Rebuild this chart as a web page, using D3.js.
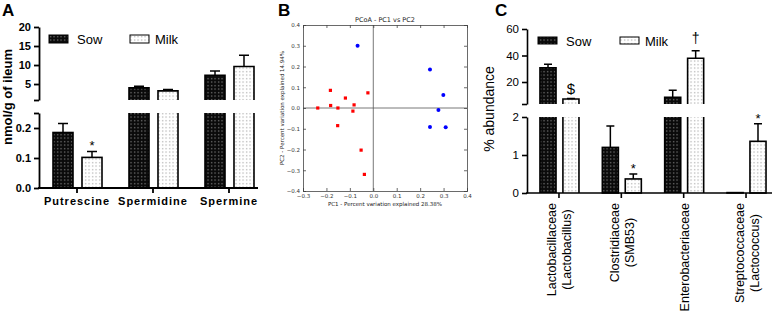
<!DOCTYPE html>
<html>
<head>
<meta charset="utf-8">
<script src="https://cdn.jsdelivr.net/npm/d3@7"></script>
<style>
  body { margin: 0; background: #fff; }
  svg { display: block; font-family: Arial, "Liberation Sans", sans-serif; }
</style>
</head>
<body>
<svg id="fig" width="778" height="312"></svg>
<script>
// ---- panel A: polyamines (nmol/g of ileum)
const polyCats = ["Putrescine", "Spermidine", "Spermine"];
const polySow = [0.185, 4.0, 7.3];
const polySowSem = [0.03, 0.4, 1.1];
const polyMilk = [0.102, 3.2, 9.6];
const polyMilkSem = [0.02, 0.35, 3.0];
const polyMilkMark = ["*", "", ""];
const polyHighTicks = [5, 10, 15, 20];
const polyLowTicks = [0, 0.1, 0.2];

// ---- panel B: PCoA
const redPC1 = [-0.237, -0.183, -0.182, -0.151, -0.152, -0.119, -0.082, -0.087, -0.023, -0.052, -0.038];
const redPC2 = [0.0, 0.085, 0.012, 0.0, -0.085, 0.048, 0.015, -0.015, 0.073, -0.203, -0.32];
const bluePC1 = [-0.067, 0.242, 0.299, 0.278, 0.242, 0.309];
const bluePC2 = [0.30, 0.185, 0.063, -0.01, -0.092, -0.093];
const pcTicksX = [-0.3, -0.2, -0.1, 0.0, 0.1, 0.2, 0.3, 0.4];
const pcTicksY = [-0.4, -0.3, -0.2, -0.1, 0.0, 0.1, 0.2, 0.3, 0.4];

// ---- panel C: % abundance
const famCats = [["Lactobacillaceae", "(Lactobacillus)"], ["Clostridiaceae", "(SMB53)"],
                 ["Enterobacteriaceae"], ["Streptococcaceae", "(Lactococcus)"]];
const famSow = [30.8, 1.2, 8.5, 0.01];
const famSowSem = [2.6, 0.56, 5.2, 0];
const famMilk = [7.2, 0.37, 37.9, 1.36];
const famMilkSem = [0.4, 0.13, 5.7, 0.46];
const famMilkMark = ["$", "*", "\u2020", "*"];
const famHighTicks = [20, 40, 60];
const famLowTicks = [0, 1, 2];

const svg = d3.select("#fig");
const defs = svg.append("defs");

// dotted fills like the prism bars
function dotPattern(id, bg, dot) {
    const p = defs.append("pattern").attr("id", id)
        .attr("patternUnits", "userSpaceOnUse").attr("width", 3.5).attr("height", 3.5);
    p.append("rect").attr("width", 3.5).attr("height", 3.5).attr("fill", bg);
    p.append("rect").attr("x", 1).attr("y", 1).attr("width", 1.2).attr("height", 1.2).attr("fill", dot);
}
dotPattern("sowFill", "#0a0a0a", "#8a8a8a");
dotPattern("milkFill", "#ffffff", "#a8a8a8");
const fills = { Sow: "url(#sowFill)", Milk: "url(#milkFill)" };

function bar(g, x0, w, v, lo, hi, fill) {
    const loMax = lo.domain()[1];
    const hiMin = hi.domain()[0];
    if (v <= loMax) {
        g.append("rect").attr("x", x0).attr("y", lo(v)).attr("width", w)
            .attr("height", lo(0) - lo(v)).attr("fill", fill)
            .attr("stroke", "#000").attr("stroke-width", 1.6);
        return;
    }
    g.append("rect").attr("x", x0).attr("y", lo(loMax)).attr("width", w)
        .attr("height", lo(0) - lo(loMax)).attr("fill", fill);
    g.append("path").attr("d", `M${x0},${lo(loMax)}V${lo(0)}M${x0 + w},${lo(loMax)}V${lo(0)}`)
        .attr("stroke", "#000").attr("stroke-width", 1.6).attr("fill", "none");
    g.append("rect").attr("x", x0).attr("y", hi(v)).attr("width", w)
        .attr("height", hi(hiMin) - hi(v)).attr("fill", fill);
    g.append("path").attr("d", `M${x0},${hi(hiMin)}V${hi(v)}H${x0 + w}V${hi(hiMin)}`)
        .attr("stroke", "#000").attr("stroke-width", 1.6).attr("fill", "none");
}

function ySeg(v, lo, hi) {
    return v <= lo.domain()[1] ? lo(v) : hi(v);
}

function errBar(g, cx, v, e, lo, hi, cap) {
    if (!e) return ySeg(v, lo, hi);
    const y0 = ySeg(v, lo, hi), y1 = ySeg(v + e, lo, hi);
    g.append("path").attr("d", `M${cx},${y0}V${y1}M${cx - cap / 2},${y1}H${cx + cap / 2}`)
        .attr("stroke", "#000").attr("stroke-width", 1.5).attr("fill", "none");
    return y1;
}

const markGap = { "*": 1, "$": 4, "\u2020": 8 };
const markSize = { "*": 13, "$": 15, "\u2020": 14 };

function styleAxis(sel, w) {
    sel.selectAll("path.domain").attr("stroke", "#000").attr("stroke-width", w);
    sel.selectAll(".tick line").attr("stroke", "#000").attr("stroke-width", w);
}

function panelLabel(x, y, t) {
    svg.append("text").attr("x", x).attr("y", y).attr("font-size", 17)
        .attr("font-weight", "bold").text(t);
}

// ================= Panel A =================
{
    const g = svg.append("g");
    const x = d3.scaleBand().domain(polyCats).range([39, 267]);
    const s = d3.scaleBand().domain(["Sow", "Milk"]).range([-24, 25]).paddingInner(0.31);
    const lo = d3.scaleLinear().domain([0, 0.25]).range([188, 113]);
    const hi = d3.scaleLinear().domain([0.8, 20]).range([100, 27]);

    polyCats.forEach((c, i) => {
        const cx = x(c) + x.bandwidth() / 2;
        const series = [["Sow", polySow[i], polySowSem[i]], ["Milk", polyMilk[i], polyMilkSem[i]]];
        series.forEach(([k, v, e]) => {
            const x0 = cx + s(k);
            bar(g, x0, s.bandwidth(), v, lo, hi, fills[k]);
            const top = errBar(g, x0 + s.bandwidth() / 2, v, e, lo, hi, 10);
            const m = k === "Milk" ? polyMilkMark[i] : "";
            if (m) {
                g.append("text").attr("x", x0 + s.bandwidth() / 2).attr("y", top - markGap[m])
                    .attr("text-anchor", "middle").attr("font-size", markSize[m]).text(m);
            }
        });
    });

    const hiAx = g.append("g").attr("transform", "translate(39,0)")
        .call(d3.axisLeft(hi).tickValues([0.8].concat(polyHighTicks)).tickSize(5).tickSizeOuter(0)
            .tickFormat(d => d < 1 ? "" : d));
    const loAx = g.append("g").attr("transform", "translate(39,0)")
        .call(d3.axisLeft(lo).tickValues(polyLowTicks.concat([0.25])).tickSize(5).tickSizeOuter(0)
            .tickFormat(d => d > 0.21 ? "" : d3.format(".1f")(d)));
    [hiAx, loAx].forEach(a => {
        styleAxis(a, 1.8);
        a.selectAll("text").attr("font-size", 11).attr("font-weight", "bold")
            .attr("fill", "#000").attr("font-family", "Arial, Liberation Sans");
    });

    const xAx = g.append("g").attr("transform", "translate(0,188)")
        .call(d3.axisBottom(x).tickSize(5).tickSizeOuter(0).tickFormat(""));
    xAx.select("path.domain").remove();
    styleAxis(xAx, 1.8);
    g.append("line").attr("x1", 38).attr("x2", 258).attr("y1", 188).attr("y2", 188)
        .attr("stroke", "#000").attr("stroke-width", 1.8);

    polyCats.forEach(c => {
        g.append("text").attr("x", x(c) + x.bandwidth() / 2).attr("y", 205)
            .attr("text-anchor", "middle").attr("font-size", 11).attr("font-weight", "bold")
            .attr("letter-spacing", 1).text(c);
    });

    g.append("text").attr("transform", "translate(12,97) rotate(-90)")
        .attr("text-anchor", "middle").attr("font-size", 13).attr("font-weight", "bold")
        .text("nmol/g of ileum");

    // legend
    [["Sow", 49, 77], ["Milk", 130, 155]].forEach(([k, rx, tx]) => {
        g.append("rect").attr("x", rx).attr("y", 35).attr("width", 19).attr("height", 8)
            .attr("fill", fills[k]).attr("stroke", "#000").attr("stroke-width", 1);
        g.append("text").attr("x", tx).attr("y", 43.5).attr("font-size", 13).text(k);
    });
    panelLabel(2, 16, "A");
}

// ================= Panel B =================
{
    const g = svg.append("g");
    const x = d3.scaleLinear().domain([-0.3, 0.4]).range([303, 467]);
    const y = d3.scaleLinear().domain([-0.4, 0.4]).range([191, 25]);
    const fmt = d3.format(".1f");

    g.append("line").attr("x1", x(0)).attr("x2", x(0)).attr("y1", y(0.4)).attr("y2", y(-0.4))
        .attr("stroke", "#555").attr("stroke-width", 0.8);
    g.append("line").attr("x1", x(-0.3)).attr("x2", x(0.4)).attr("y1", y(0)).attr("y2", y(0))
        .attr("stroke", "#555").attr("stroke-width", 0.8);

    const axes = [
        g.append("g").attr("transform", `translate(0,${y(-0.4)})`)
            .call(d3.axisBottom(x).tickValues(pcTicksX).tickSize(-3).tickPadding(3).tickFormat(fmt)),
        g.append("g").attr("transform", `translate(0,${y(0.4)})`)
            .call(d3.axisTop(x).tickValues(pcTicksX).tickSize(-3).tickFormat("")),
        g.append("g").attr("transform", `translate(${x(-0.3)},0)`)
            .call(d3.axisLeft(y).tickValues(pcTicksY).tickSize(-3).tickPadding(3).tickFormat(fmt)),
        g.append("g").attr("transform", `translate(${x(0.4)},0)`)
            .call(d3.axisRight(y).tickValues(pcTicksY).tickSize(-3).tickFormat(""))
    ];
    axes.forEach(a => {
        a.selectAll("path.domain").attr("stroke", "#444").attr("stroke-width", 0.8);
        a.selectAll(".tick line").attr("stroke", "#444").attr("stroke-width", 0.8);
        a.selectAll("text").attr("font-size", 5.5).attr("fill", "#333")
            .attr("font-family", "DejaVu Sans");
    });

    g.selectAll(".red").data(redPC1).enter().append("rect")
        .attr("x", (d, i) => x(d) - 1.6).attr("y", (d, i) => y(redPC2[i]) - 1.6)
        .attr("width", 3.2).attr("height", 3.2).attr("fill", "#ff0000");
    g.selectAll(".blue").data(bluePC1).enter().append("circle")
        .attr("cx", d => x(d)).attr("cy", (d, i) => y(bluePC2[i])).attr("r", 2)
        .attr("fill", "#0000ff");

    g.append("text").attr("x", 385).attr("y", 22).attr("text-anchor", "middle")
        .attr("font-size", 6.5).attr("font-family", "DejaVu Sans").attr("fill", "#222")
        .text("PCoA - PC1 vs PC2");
    g.append("text").attr("x", 385).attr("y", 206).attr("text-anchor", "middle")
        .attr("font-size", 5.5).attr("font-family", "DejaVu Sans").attr("fill", "#222")
        .text("PC1 - Percent variation explained 28.38%");
    g.append("text").attr("transform", "translate(284,108) rotate(-90)").attr("text-anchor", "middle")
        .attr("font-size", 5.5).attr("font-family", "DejaVu Sans").attr("fill", "#222")
        .text("PC2 - Percent variation explained 14.94%");
    panelLabel(278, 16, "B");
}

// ================= Panel C =================
{
    const g = svg.append("g");
    const keys = famCats.map(d => d.join(" "));
    const x = d3.scaleBand().domain(keys).range([527.8, 777.2]);
    const s = d3.scaleBand().domain(["Sow", "Milk"]).range([-19, 20]).paddingInner(0.3);
    const lo = d3.scaleLinear().domain([0, 2]).range([193, 117]);
    const hi = d3.scaleLinear().domain([3.4, 60]).range([104, 29]);

    keys.forEach((c, i) => {
        const cx = x(c) + x.bandwidth() / 2;
        const series = [["Sow", famSow[i], famSowSem[i]], ["Milk", famMilk[i], famMilkSem[i]]];
        series.forEach(([k, v, e]) => {
            const x0 = cx + s(k);
            bar(g, x0, s.bandwidth(), v, lo, hi, fills[k]);
            const top = errBar(g, x0 + s.bandwidth() / 2, v, e, lo, hi, 8);
            const m = k === "Milk" ? famMilkMark[i] : "";
            if (m) {
                g.append("text").attr("x", x0 + s.bandwidth() / 2).attr("y", top - markGap[m])
                    .attr("text-anchor", "middle").attr("font-size", markSize[m]).text(m);
            }
        });
    });

    const hiAx = g.append("g").attr("transform", "translate(527,0)")
        .call(d3.axisLeft(hi).tickValues([3.4].concat(famHighTicks)).tickSize(5).tickSizeOuter(0)
            .tickFormat(d => d < 5 ? "" : d));
    const loAx = g.append("g").attr("transform", "translate(527,0)")
        .call(d3.axisLeft(lo).tickValues(famLowTicks).tickSize(5).tickSizeOuter(0)
            .tickFormat(d3.format("d")));
    [hiAx, loAx].forEach(a => {
        styleAxis(a, 1.6);
        a.selectAll("text").attr("font-size", 11.5).attr("fill", "#000")
            .attr("font-family", "Arial, Liberation Sans");
    });

    const xAx = g.append("g").attr("transform", "translate(0,193)")
        .call(d3.axisBottom(x).tickSize(5).tickSizeOuter(0).tickFormat(""));
    xAx.select("path.domain").remove();
    styleAxis(xAx, 1.6);
    g.append("line").attr("x1", 526).attr("x2", 772).attr("y1", 193).attr("y2", 193)
        .attr("stroke", "#000").attr("stroke-width", 1.6);

    famCats.forEach((lines, i) => {
        const cx = x(keys[i]) + x.bandwidth() / 2;
        const texts = lines.map((t, j) => g.append("text")
            .attr("text-anchor", "middle").attr("dominant-baseline", "central")
            .attr("font-size", 12.5).text(t));
        const L = d3.max(texts, t => t.node().getComputedTextLength());
        texts.forEach((t, j) => {
            const dx = (j - (lines.length - 1) / 2) * 15 + 1;
            t.attr("transform", `translate(${cx + dx},${203 + L / 2}) rotate(-90)`);
        });
    });

    g.append("text").attr("transform", "translate(494,109) rotate(-90)")
        .attr("text-anchor", "middle").attr("font-size", 14).text("% abundance");

    [["Sow", 538, 566], ["Milk", 620, 645]].forEach(([k, rx, tx]) => {
        g.append("rect").attr("x", rx).attr("y", 37).attr("width", 19).attr("height", 7)
            .attr("fill", fills[k]).attr("stroke", "#000").attr("stroke-width", 1);
        g.append("text").attr("x", tx).attr("y", 45.5).attr("font-size", 13).text(k);
    });
    panelLabel(495, 16, "C");
}
</script>
</body>
</html>
